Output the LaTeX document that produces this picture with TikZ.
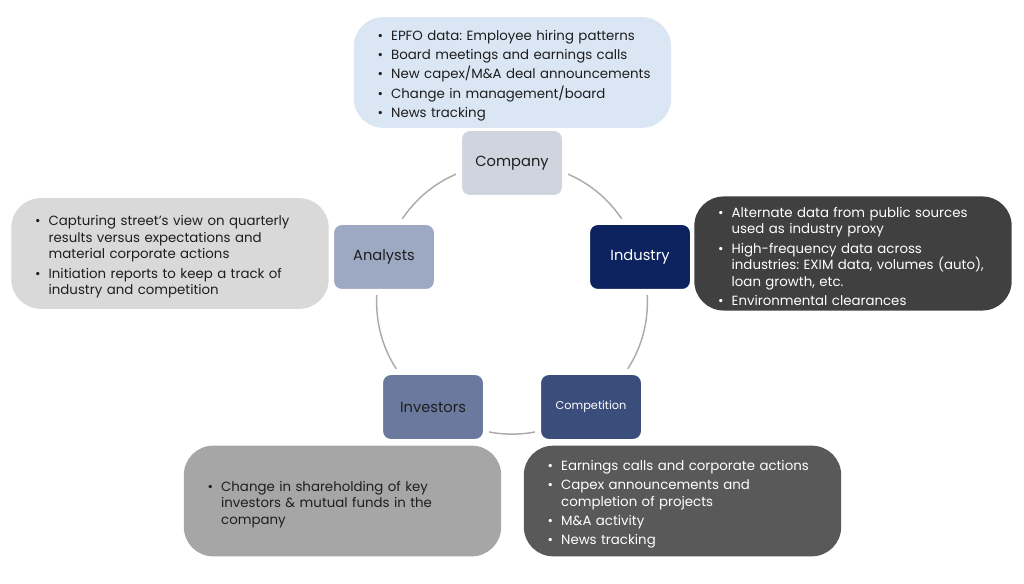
\documentclass[tikz,border=0pt]{standalone}
\usepackage{fontspec}
\setmainfont{Poppins}
\usepackage{enumitem}
\usepackage{tikz}
\usetikzlibrary{backgrounds}

\definecolor{inktext}{HTML}{1E1E1E}
\definecolor{noteblue}{HTML}{DAE6F4}
\definecolor{notelight}{HTML}{D9D9D9}
\definecolor{notedark}{HTML}{404040}
\definecolor{notemid}{HTML}{A6A6A6}
\definecolor{noteslate}{HTML}{595959}
\definecolor{compfill}{HTML}{CFD4DF}
\definecolor{anafill}{HTML}{9DA8C3}
\definecolor{indfill}{HTML}{0C2360}
\definecolor{invfill}{HTML}{6A799D}
\definecolor{cmpfill}{HTML}{3A4D7B}
\definecolor{cyclegray}{HTML}{ABABAB}

\newcommand\notefont{\fontsize{10}{12.4}\selectfont}
\newcommand\stagefont{\fontsize{11}{13}\selectfont}
\newlist{facts}{itemize}{1}
\setlist[facts]{label=\textbullet,leftmargin=20pt,labelsep=6pt,
  itemsep=2.2pt,topsep=0pt,parsep=0pt,partopsep=0pt}
\frenchspacing

\begin{document}
\begin{tikzpicture}[x=0.75pt,y=-0.75pt,
  stage/.style={rectangle,rounded corners=8pt,draw=white,line width=4.5pt,
    minimum width=79.5pt,minimum height=52.5pt,font=\stagefont},
  note/.style={rectangle,rounded corners=22pt,minimum width=238pt,
    minimum height=83pt,text width=222pt,inner xsep=8pt,font=\notefont,
    align=left},
  cycleline/.style={draw=cyclegray,line width=1.1pt}]
  \useasboundingbox (0,0) rectangle (1024,584);

  % stages round the cycle
  \node[stage,fill=compfill,text=inktext] (company) at (512,163) {Company};
  \node[stage,fill=anafill,text=inktext] (analysts) at (384,257) {Analysts};
  \node[stage,fill=indfill,text=white] (industry) at (640,257) {Industry};
  \node[stage,fill=invfill,text=inktext] (investors) at (433,407) {Investors};
  \node[stage,fill=cmpfill,text=white,font=\fontsize{8.5}{10}\selectfont]
    (competition) at (591,407) {Competition};

  % notes beside each stage
  \node[note,fill=noteblue,text=inktext] (companyinfo) at (512.5,72.5) {%
    \begin{facts}
      \item EPFO data: Employee hiring patterns
      \item Board meetings and earnings calls
      \item New capex/M\&A deal announcements
      \item Change in management/board
      \item News tracking
    \end{facts}};
  \node[note,fill=notelight,text=inktext] (analystinfo) at (170,253.5) {%
    \begin{facts}
      \item Capturing street’s view on quarterly\newline
        results versus expectations and\newline
        material corporate actions
      \item Initiation reports to keep a track of\newline
        industry and competition
    \end{facts}};
  \node[note,fill=notedark,text=white] (industryinfo) at (853,253.5) {%
    \begin{facts}
      \item Alternate data from public sources\newline
        used as industry proxy
      \item High-frequency data across\newline
        industries: EXIM data, volumes (auto),\newline
        loan growth, etc.
      \item Environmental clearances
    \end{facts}};
  \node[note,fill=notemid,text=inktext] (investorinfo) at (342.5,501) {%
    \begin{facts}
      \item Change in shareholding of key\newline
        investors \& mutual funds in the\newline
        company
    \end{facts}};
  \node[note,fill=noteslate,text=white] (competitioninfo) at (682.5,501) {%
    \begin{facts}
      \item Earnings calls and corporate actions
      \item Capex announcements and\newline
        completion of projects
      \item M\&A activity
      \item News tracking
    \end{facts}};

  % the ring joining the stages
  \begin{scope}[on background layer]
    \draw[cycleline] (company.center) to[bend right=36] (analysts.center);
    \draw[cycleline] (analysts.center) to[bend right=36] (investors.center);
    \draw[cycleline] (investors.center) to[bend right=36] (competition.center);
    \draw[cycleline] (competition.center) to[bend right=36] (industry.center);
    \draw[cycleline] (industry.center) to[bend right=36] (company.center);
  \end{scope}
\end{tikzpicture}
\end{document}
